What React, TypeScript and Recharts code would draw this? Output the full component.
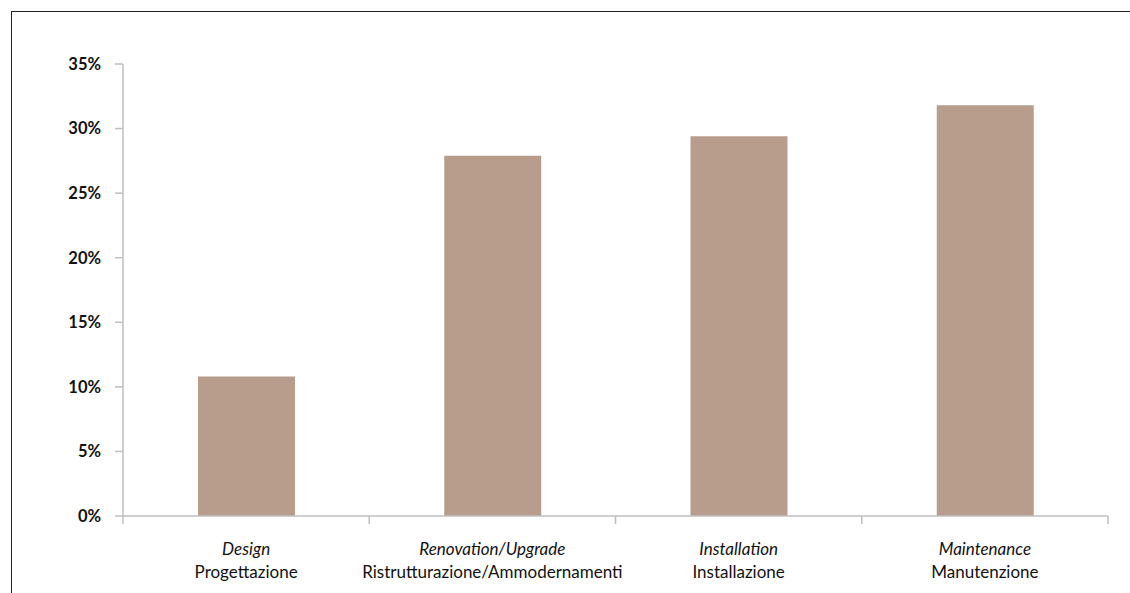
import React from 'react';
import { BarChart, Bar, XAxis, YAxis } from 'recharts';

const categoriesEn = ['Design', 'Renovation/Upgrade', 'Installation', 'Maintenance'];
const categoriesIt = ['Progettazione', 'Ristrutturazione/Ammodernamenti', 'Installazione', 'Manutenzione'];
const shares = [10.8, 27.9, 29.4, 31.8];
const yTicks = [0, 5, 10, 15, 20, 25, 30, 35];

const data = categoriesEn.map((en, i) => ({ en, it: categoriesIt[i], value: shares[i] }));

const W = 1130;
const H = 593;
const LEFT = 123;
const RIGHT = 22;
const HALF_BAND = (W - LEFT - RIGHT) / categoriesEn.length / 2;
const FONT = 'Lato, "Open Sans", sans-serif';

function CategoryTick(props: any) {
  const { x, y, payload, index } = props;
  const row = data[index] || { en: payload.value, it: '' };
  const last = index === data.length - 1;
  return (
    <g>
      <line x1={x - HALF_BAND} y1={y - 8} x2={x - HALF_BAND} y2={y} stroke="#bfbfbf" strokeWidth={1.5} />
      {last && <line x1={x + HALF_BAND} y1={y - 8} x2={x + HALF_BAND} y2={y} stroke="#bfbfbf" strokeWidth={1.5} />}
      <text x={x} y={y + 31} textAnchor="middle" fontFamily={FONT} fontSize={17} fontStyle="italic" fill="#111">
        {row.en}
      </text>
      <text x={x} y={y + 54} textAnchor="middle" fontFamily={FONT} fontSize={17} fill="#111">
        {row.it}
      </text>
    </g>
  );
}

export default function App() {
  return (
    <div style={{ position: 'absolute', left: 0, top: 0, width: W, height: H, background: '#fff' }}>
      <div
        style={{
          position: 'absolute',
          left: 11,
          top: 11,
          right: 0,
          bottom: 0,
          borderTop: '1.5px solid #222',
          borderLeft: '1.5px solid #222',
        }}
      />
      <BarChart
        width={W}
        height={H}
        data={data}
        margin={{ top: 64, right: RIGHT, bottom: 0, left: 0 }}
        style={{ position: 'absolute', left: 0, top: 0 }}
      >
        <XAxis
          dataKey="en"
          height={77}
          axisLine={{ stroke: '#bfbfbf', strokeWidth: 1.5 }}
          tickLine={false}
          tick={<CategoryTick />}
          interval={0}
        />
        <YAxis
          width={LEFT}
          domain={[0, 35]}
          ticks={yTicks}
          tickFormatter={(v: number) => `${v}%`}
          axisLine={{ stroke: '#bfbfbf', strokeWidth: 1.5 }}
          tickLine={{ stroke: '#bfbfbf', strokeWidth: 1.5 }}
          tickSize={8}
          tickMargin={14}
          tick={{ fill: '#111', fontFamily: FONT, fontSize: 16.5, fontWeight: 700 }}
        />
        <Bar dataKey="value" fill="#b89c8c" barSize={97} isAnimationActive={false} />
      </BarChart>
    </div>
  );
}
